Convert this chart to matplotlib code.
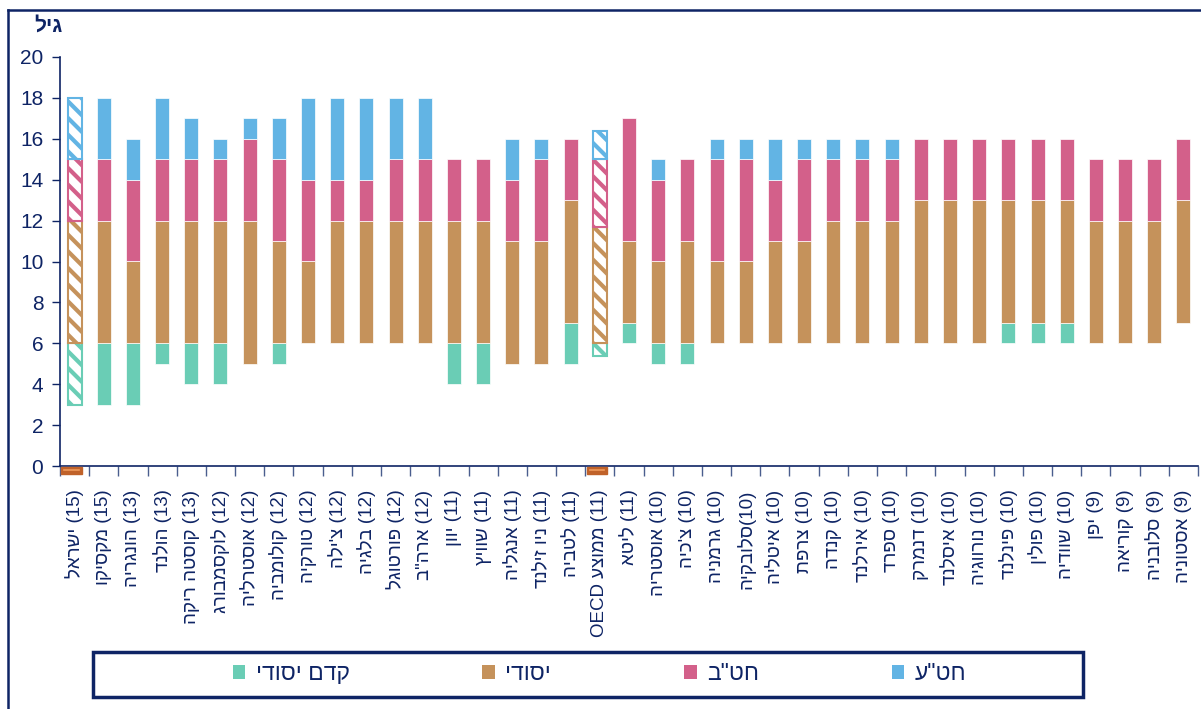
import numpy as np
import matplotlib
matplotlib.use("Agg")
import matplotlib.pyplot as plt
from matplotlib.patches import Rectangle
from matplotlib.lines import Line2D

plt.rcParams['font.family'] = ['Liberation Sans', 'DejaVu Sans']
plt.rcParams['hatch.linewidth'] = 3.0

# ---------------- data ----------------
names = ["ישראל", "מקסיקו", "הונגריה", "הולנד", "קוסטה ריקה", "לוקסמבורג", "אוסטרליה",
         "קולומביה", "טורקיה", "צ'ילה", "בלגיה", "פורטוגל", "ארה\"ב", "יוון", "שוויץ",
         "אנגליה", "ניו זילנד", "לטביה", "ממוצע", "ליטא", "אוסטריה", "צ'כיה", "גרמניה",
         "סלובקיה", "איטליה", "צרפת", "קנדה", "אירלנד", "ספרד", "דנמרק", "איסלנד",
         "נורווגיה", "פינלנד", "פולין", "שוודיה", "יפן", "קוריאה", "סלובניה", "אסטוניה"]
years = [15, 15, 13, 13, 13, 12, 12, 12, 12, 12, 12, 12, 12, 11, 11, 11, 11, 11, 11, 11,
         10, 10, 10, 10, 10, 10, 10, 10, 10, 10, 10, 10, 10, 10, 10, 9, 9, 9, 9]
nan = np.nan
pre_start = [3, 3, 3, 5, 4, 4, nan, 5, nan, nan, nan, nan, nan, 4, 4, nan, nan, 5, 5.4, 6,
             5, 5, nan, nan, nan, nan, nan, nan, nan, nan, nan, nan, 6, 6, 6, nan, nan, nan, nan]
pre_end = [6, 6, 6, 6, 6, 6, nan, 6, nan, nan, nan, nan, nan, 6, 6, nan, nan, 7, 6, 7,
           6, 6, nan, nan, nan, nan, nan, nan, nan, nan, nan, nan, 7, 7, 7, nan, nan, nan, nan]
prim_start = [6, 6, 6, 6, 6, 6, 5, 6, 6, 6, 6, 6, 6, 6, 6, 5, 5, 7, 6, 7,
              6, 6, 6, 6, 6, 6, 6, 6, 6, 6, 6, 6, 7, 7, 7, 6, 6, 6, 7]
prim_end = [12, 12, 10, 12, 12, 12, 12, 11, 10, 12, 12, 12, 12, 12, 12, 11, 11, 13, 11.7, 11,
            10, 11, 10, 10, 11, 11, 12, 12, 12, 13, 13, 13, 13, 13, 13, 12, 12, 12, 13]
low_end = [15, 15, 14, 15, 15, 15, 16, 15, 14, 14, 14, 15, 15, 15, 15, 14, 15, 16, 15, 17,
           14, 15, 15, 15, 14, 15, 15, 15, 15, 16, 16, 16, 16, 16, 16, 15, 15, 15, 16]
up_end = [18, 18, 16, 18, 17, 16, 17, 17, 18, 18, 18, 18, 18, nan, nan, 16, 16, nan, 16.4, nan,
          15, nan, 16, 16, 16, 16, 16, 16, 16, nan, nan, nan, nan, nan, nan, nan, nan, nan, nan]
highlight = [0, 18]  # Israel, OECD average
series_names = ["קדם יסודי", "יסודי", "חט\"ב", "חט\"ע"]
colors = ["#6ACDB5", "#C5925B", "#D3608A", "#62B4E4"]
navy = "#0E2465"


def label(i):
    # visual (left-to-right) order of the right-to-left label, drawn rotated by +90
    n = names[i]
    if n == "ממוצע":
        return "OECD %s (%d)" % (n[::-1], years[i])
    if n == "סלובקיה":
        return "%s(%d)" % (n[::-1], years[i])
    return "%s (%d)" % (n[::-1], years[i])


labels = [label(i) for i in range(len(names))]

# ---------------- figure ----------------
W, H = 1201, 709
fig = plt.figure(figsize=(W / 100, H / 100), dpi=100)
ax = fig.add_axes([60 / W, 1 - 466 / H, (1198 - 60) / W, (466 - 57) / H])

x = np.arange(len(names))
bw = 0.48
segs = [(pre_start, pre_end), (prim_start, prim_end), (prim_end, low_end), (low_end, up_end)]
for k, (s, e) in enumerate(segs):
    s = np.array(s, dtype=float)
    e = np.array(e, dtype=float)
    for i in range(len(x)):
        if np.isnan(s[i]) or np.isnan(e[i]):
            continue
        if i in highlight:
            ax.bar(x[i], e[i] - s[i], bottom=s[i], width=bw, color="white",
                   edgecolor=colors[k], hatch="\\\\", linewidth=1.5, zorder=3)
        else:
            ax.bar(x[i], e[i] - s[i], bottom=s[i], width=bw, color=colors[k],
                   edgecolor="#ffffff", linewidth=0.5, zorder=3)

# orange markers below axis for highlighted bars
for i in highlight:
    ax.add_patch(Rectangle((i - 0.45, -0.37), 0.7, 0.33, facecolor="#C0622A",
                           edgecolor="#C0622A", clip_on=False, zorder=4))
    ax.plot([i - 0.35, i + 0.15], [-0.2, -0.2], color="#EE9A5C", lw=1.2,
            clip_on=False, zorder=5)

ax.set_xlim(-0.5, len(names) - 0.5)
ax.set_ylim(0, 20)
ax.set_yticks(np.arange(0, 21, 2))
ax.tick_params(axis='y', direction='out', length=6, color=navy, labelcolor=navy,
               labelsize=15, pad=6, width=1)
ax.set_xticks(x)
ax.set_xticklabels(labels, rotation=90, fontsize=13.5, color=navy, va='top', ha='center')
ax.tick_params(axis='x', which='major', length=0, pad=17)
ax.set_xticks(np.arange(-0.5, len(names), 1), minor=True)
ax.tick_params(axis='x', which='minor', direction='out', length=7, color="#4A5E8E", width=1)

for sp in ["top", "right"]:
    ax.spines[sp].set_visible(False)
for sp in ["left", "bottom"]:
    ax.spines[sp].set_color(navy)
    ax.spines[sp].set_linewidth(1.2)

fig.text(48 / W, 1 - 26 / H, "גיל"[::-1], fontsize=15, fontweight="bold", color=navy,
         ha="center", va="center")

# outer frame
fig.add_artist(Line2D([8 / W, 8 / W], [0, 1 - 10 / H], transform=fig.transFigure,
                      color=navy, lw=1.8))
fig.add_artist(Line2D([8 / W, 1], [1 - 10 / H, 1 - 10 / H], transform=fig.transFigure,
                      color=navy, lw=1.8))

# legend frame
fig.add_artist(Rectangle((93 / W, 1 - 697 / H), (1083 - 93) / W, (697 - 652) / H,
                         transform=fig.transFigure, fill=False, edgecolor=navy, lw=2.5))
handles = [Rectangle((0, 0), 1, 1, facecolor=c, edgecolor="none") for c in colors]
leg_labels = [s[::-1] for s in series_names]
fig.legend(handles, leg_labels, loc="center left", bbox_to_anchor=(212 / W, 1 - 674 / H),
           ncol=4, frameon=False, fontsize=16.5, handlelength=0.55, handleheight=0.55,
           handletextpad=0.45, columnspacing=5.8, labelcolor=navy)

fig.savefig("out.png", dpi=100)
